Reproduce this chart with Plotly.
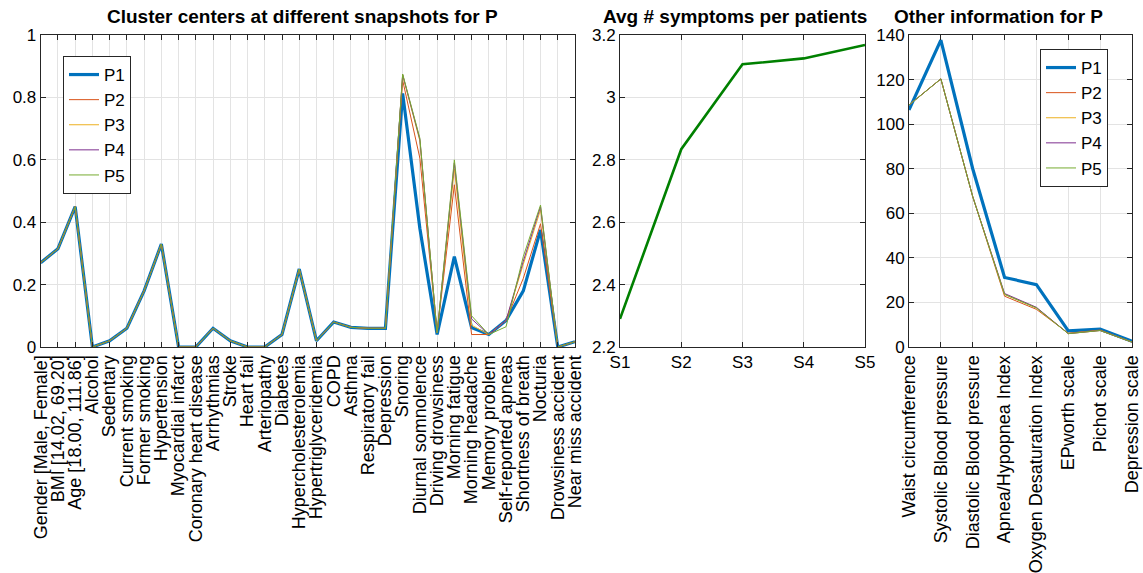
import plotly.graph_objects as go

# ---- data ---------------------------------------------------------------
features = [
    "Gender [Male, Female]", "BMI [14.02, 69.20]", "Age [18.00, 111.86]",
    "Alcohol", "Sedentary", "Current smoking", "Former smoking", "Hypertension",
    "Myocardial infarct", "Coronary heart disease", "Arrhythmias", "Stroke",
    "Heart fail", "Arteriopathy", "Diabetes", "Hypercholesterolemia",
    "Hypertriglyceridemia", "COPD", "Asthma", "Respiratory fail", "Depression",
    "Snoring", "Diurnal somnolence", "Driving drowsiness", "Morning fatigue",
    "Morning headache", "Memory problem", "Self-reported apneas",
    "Shortness of breath", "Nocturia", "Drowsiness accident", "Near miss accident",
]

common = [0.27, 0.315, 0.45, 0.0, 0.02, 0.06, 0.18, 0.33, 0.0, 0.0, 0.06, 0.02,
          0.0, 0.0, 0.04, 0.25, 0.02, 0.08, 0.063, 0.06, 0.06]

P1 = common + [0.813, 0.38, 0.04, 0.29, 0.062, 0.04, 0.085, 0.18, 0.375, 0.0, 0.017]
P2 = common + [0.855, 0.605, 0.045, 0.52, 0.04, 0.04, 0.085, 0.22, 0.395, 0.0, 0.017]
P3 = common + [0.872, 0.66, 0.045, 0.57, 0.07, 0.04, 0.085, 0.265, 0.44, 0.0, 0.017]
P4 = common + [0.873, 0.665, 0.045, 0.59, 0.09, 0.04, 0.085, 0.275, 0.45, 0.0, 0.017]
P5 = common + [0.875, 0.669, 0.045, 0.60, 0.10, 0.04, 0.065, 0.29, 0.455, 0.0, 0.017]

snapshots = ["S1", "S2", "S3", "S4", "S5"]
avg_symptoms = [2.29, 2.834, 3.106, 3.125, 3.168]

other_labels = [
    "Waist circumference", "Systolic Blood pressure", "Diastolic Blood pressure",
    "Apnea/Hypopnea Index", "Oxygen Desaturation Index", "EPworth scale",
    "Pichot scale", "Depression scale",
]
O1 = [106.4, 137.7, 80.0, 31.2, 28.0, 7.2, 8.0, 2.6]
O2 = [108.6, 120.3, 67.5, 22.8, 16.9, 6.2, 7.6, 2.2]
O3 = [108.6, 120.3, 67.5, 23.6, 17.6, 6.0, 7.4, 2.2]
O4 = [108.6, 120.3, 67.5, 24.0, 17.8, 6.0, 7.4, 2.2]
O5 = [108.6, 120.3, 67.5, 23.6, 17.5, 6.0, 7.4, 2.2]

series_names = ["P1", "P2", "P3", "P4", "P5"]
colors = ["#0072BD", "#D95319", "#EDB120", "#7E2F8E", "#77AC30"]
widths = [3.2, 1, 1, 1, 1]

FONT = "Liberation Sans, Arial, Helvetica, sans-serif"
AXC = "#262626"
GRID = "#e3e3e3"

fig = go.Figure()

for name, ys, c, w in zip(series_names, [P1, P2, P3, P4, P5], colors, widths):
    fig.add_trace(go.Scatter(x=features, y=ys, mode="lines", name=name,
                             line=dict(color=c, width=w), xaxis="x", yaxis="y",
                             legend="legend"))

fig.add_trace(go.Scatter(x=snapshots, y=avg_symptoms, mode="lines",
                         line=dict(color="#008000", width=2.6), showlegend=False,
                         xaxis="x2", yaxis="y2"))

for name, ys, c, w in zip(series_names, [O1, O2, O3, O4, O5], colors, widths):
    fig.add_trace(go.Scatter(x=other_labels, y=ys, mode="lines", name=name,
                             line=dict(color=c, width=w), xaxis="x3", yaxis="y3",
                             legend="legend2"))

W, H = 1143, 573
ML, MR, MT, MB = 40, 11, 35, 226
PW = W - ML - MR
PH = H - MT - MB


def dom(a, b):
    return [max(0, (a - ML) / PW), min(1, (b - ML) / PW)]


def axis_style(size):
    return dict(showline=True, linecolor=AXC, linewidth=1, mirror="allticks",
                ticks="inside", ticklen=5, tickcolor=AXC, showgrid=True,
                gridcolor=GRID, gridwidth=1, zeroline=False, automargin=False,
                tickfont=dict(family=FONT, size=size, color="#000000"))


fig.update_layout(
    width=W, height=H,
    margin=dict(l=ML, r=MR, t=MT, b=MB),
    paper_bgcolor="white", plot_bgcolor="white",
    font=dict(family=FONT, size=17, color="#000000"),
    xaxis=dict(domain=dom(40.7, 575), anchor="y", type="category",
               range=[0, len(features) - 1], tickangle=-90,
               tickmode="array", tickvals=features, ticktext=features,
               **axis_style(18)),
    yaxis=dict(domain=[0, 1], anchor="x", range=[0, 1],
               tickvals=[0, 0.2, 0.4, 0.6, 0.8, 1],
               ticktext=["0", "0.2", "0.4", "0.6", "0.8", "1"], **axis_style(17)),
    xaxis2=dict(domain=dom(620, 865), anchor="y2", type="category",
                range=[0, len(snapshots) - 1], tickmode="array",
                tickvals=snapshots, ticktext=snapshots, **axis_style(17)),
    yaxis2=dict(domain=[0, 1], anchor="x2", range=[2.2, 3.2],
                tickvals=[2.2, 2.4, 2.6, 2.8, 3.0, 3.2],
                ticktext=["2.2", "2.4", "2.6", "2.8", "3", "3.2"], **axis_style(17)),
    xaxis3=dict(domain=dom(909, 1132), anchor="y3", type="category",
                range=[0, len(other_labels) - 1], tickangle=-90,
                tickmode="array", tickvals=other_labels, ticktext=other_labels,
                **axis_style(18)),
    yaxis3=dict(domain=[0, 1], anchor="x3", range=[0, 140],
                tickvals=list(range(0, 141, 20)), **axis_style(17)),
    legend=dict(x=(63 - ML) / PW, y=1 - (56 - MT) / PH, xanchor="left",
                yanchor="top", bgcolor="white", bordercolor=AXC, borderwidth=1,
                font=dict(family=FONT, size=17), tracegroupgap=0),
    legend2=dict(x=(1040 - ML) / PW, y=1 - (49 - MT) / PH, xanchor="left",
                 yanchor="top", bgcolor="white", bordercolor=AXC, borderwidth=1,
                 font=dict(family=FONT, size=17), tracegroupgap=0),
)

# panel titles, centred where each heading sits above its axes
titles = [
    ("Cluster centers at different snapshots for P", 302.5),
    ("Avg # symptoms per patients", 735),
    ("Other information for P", 998),
]
for text, cx in titles:
    fig.add_annotation(text="<b>%s</b>" % text, xref="paper", yref="paper",
                       x=(cx - ML) / PW, y=1 + (MT - 16) / PH, xanchor="center",
                       yanchor="middle", showarrow=False,
                       font=dict(family=FONT, size=19, color="#000000"))

fig.write_html("out.html")
